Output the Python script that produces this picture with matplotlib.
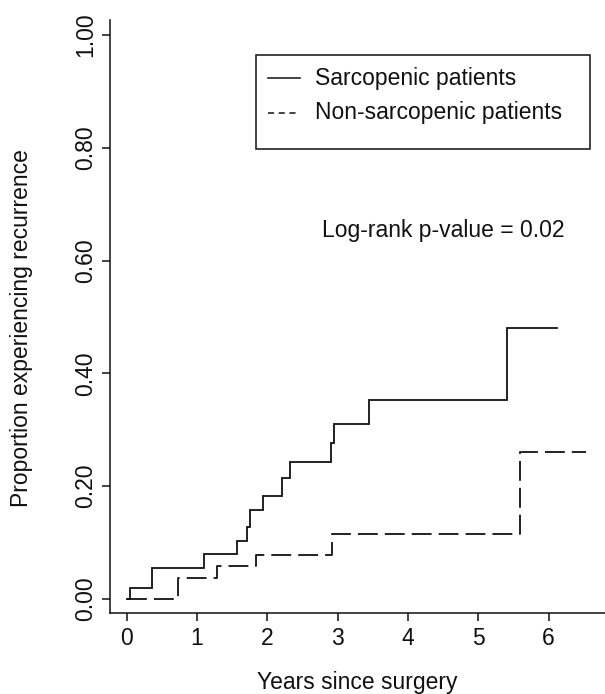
import matplotlib
matplotlib.use("Agg")
import matplotlib.pyplot as plt
from matplotlib.lines import Line2D
from matplotlib.patches import Rectangle

plt.rcParams['font.family'] = ['Liberation Sans', 'DejaVu Sans']

# Kaplan-Meier style step data (time in years, cumulative proportion)
sarc_times = [0.0, 0.04, 0.355, 1.10, 1.57, 1.71, 1.76, 1.94, 2.21, 2.32, 2.90, 2.95, 3.45, 5.40]
sarc_values = [0.0, 0.019, 0.0555, 0.079, 0.102, 0.128, 0.158, 0.183, 0.214, 0.243, 0.277, 0.311, 0.353, 0.48]
sarc_end = 6.12

nonsarc_times = [0.0, 0.73, 1.28, 1.84, 2.92, 5.59]
nonsarc_values = [0.0, 0.037, 0.0585, 0.078, 0.115, 0.261]
nonsarc_end = 6.53

x_ticks = [0, 1, 2, 3, 4, 5, 6]
y_ticks = [0.0, 0.2, 0.4, 0.6, 0.8, 1.0]
y_ticklabels = ["0.00", "0.20", "0.40", "0.60", "0.80", "1.00"]

series_labels = ["Sarcopenic patients", "Non-sarcopenic patients"]
annotation = "Log-rank p-value = 0.02"
x_label = "Years since surgery"
y_label = "Proportion experiencing recurrence"

W, H = 605, 694
fig = plt.figure(figsize=(W / 100, H / 100), dpi=100)
ax = fig.add_axes([110 / W, (H - 613) / H, (605 - 110) / W, (613 - 20) / H])

ink = "#111111"
lw = 1.3

ax.step(sarc_times + [sarc_end], sarc_values + [sarc_values[-1]], where="post",
        color=ink, lw=lw, solid_joinstyle="miter")
ax.step(nonsarc_times + [nonsarc_end], nonsarc_values + [nonsarc_values[-1]], where="post",
        color=ink, lw=lw, linestyle=(0, (11, 3.9)))

ax.set_xlim(-0.2375, 6.80)
ax.set_ylim(-0.0248, 1.0266)

for s in ["top", "right"]:
    ax.spines[s].set_visible(False)
for s in ["left", "bottom"]:
    ax.spines[s].set_linewidth(1.1)
    ax.spines[s].set_color(ink)

ax.set_xticks(x_ticks)
ax.set_xticklabels([str(t) for t in x_ticks], fontsize=16.5, color=ink)
ax.set_yticks(y_ticks)
ax.set_yticklabels(y_ticklabels, fontsize=16.5, color=ink, rotation=90, va="center")
ax.tick_params(axis="both", direction="out", length=6, width=1.1, color=ink)
ax.tick_params(axis="x", pad=4)
ax.tick_params(axis="y", pad=3.5)

fig.text(357.5 / W, 1 - 682 / H, x_label, fontsize=16.5, color=ink, ha="center", va="center")
fig.text(22 / W, 1 - 328 / H, y_label, fontsize=16.5, color=ink, ha="center", va="center",
         rotation=90)

fig.text(443.5 / W, 1 - 230 / H, annotation, fontsize=16.5, color=ink, ha="center", va="center")

# legend box (drawn in figure pixel coordinates)
box = Rectangle((256 / W, 1 - 149 / H), (590 - 256) / W, (149 - 55) / H,
                transform=fig.transFigure, fill=False, edgecolor=ink, lw=1.1)
fig.add_artist(box)
fig.add_artist(Line2D([268 / W, 300 / W], [1 - 78 / H, 1 - 78 / H], transform=fig.transFigure,
                      color=ink, lw=1.1))
fig.add_artist(Line2D([268 / W, 300 / W], [1 - 113 / H, 1 - 113 / H], transform=fig.transFigure,
                      color=ink, lw=1.1, linestyle=(0, (4, 3))))
fig.text(315 / W, 1 - 78 / H, series_labels[0], fontsize=16.5, color=ink, ha="left", va="center")
fig.text(315 / W, 1 - 113 / H, series_labels[1], fontsize=16.5, color=ink, ha="left", va="center")

fig.savefig("out.png", dpi=100, facecolor="white")
